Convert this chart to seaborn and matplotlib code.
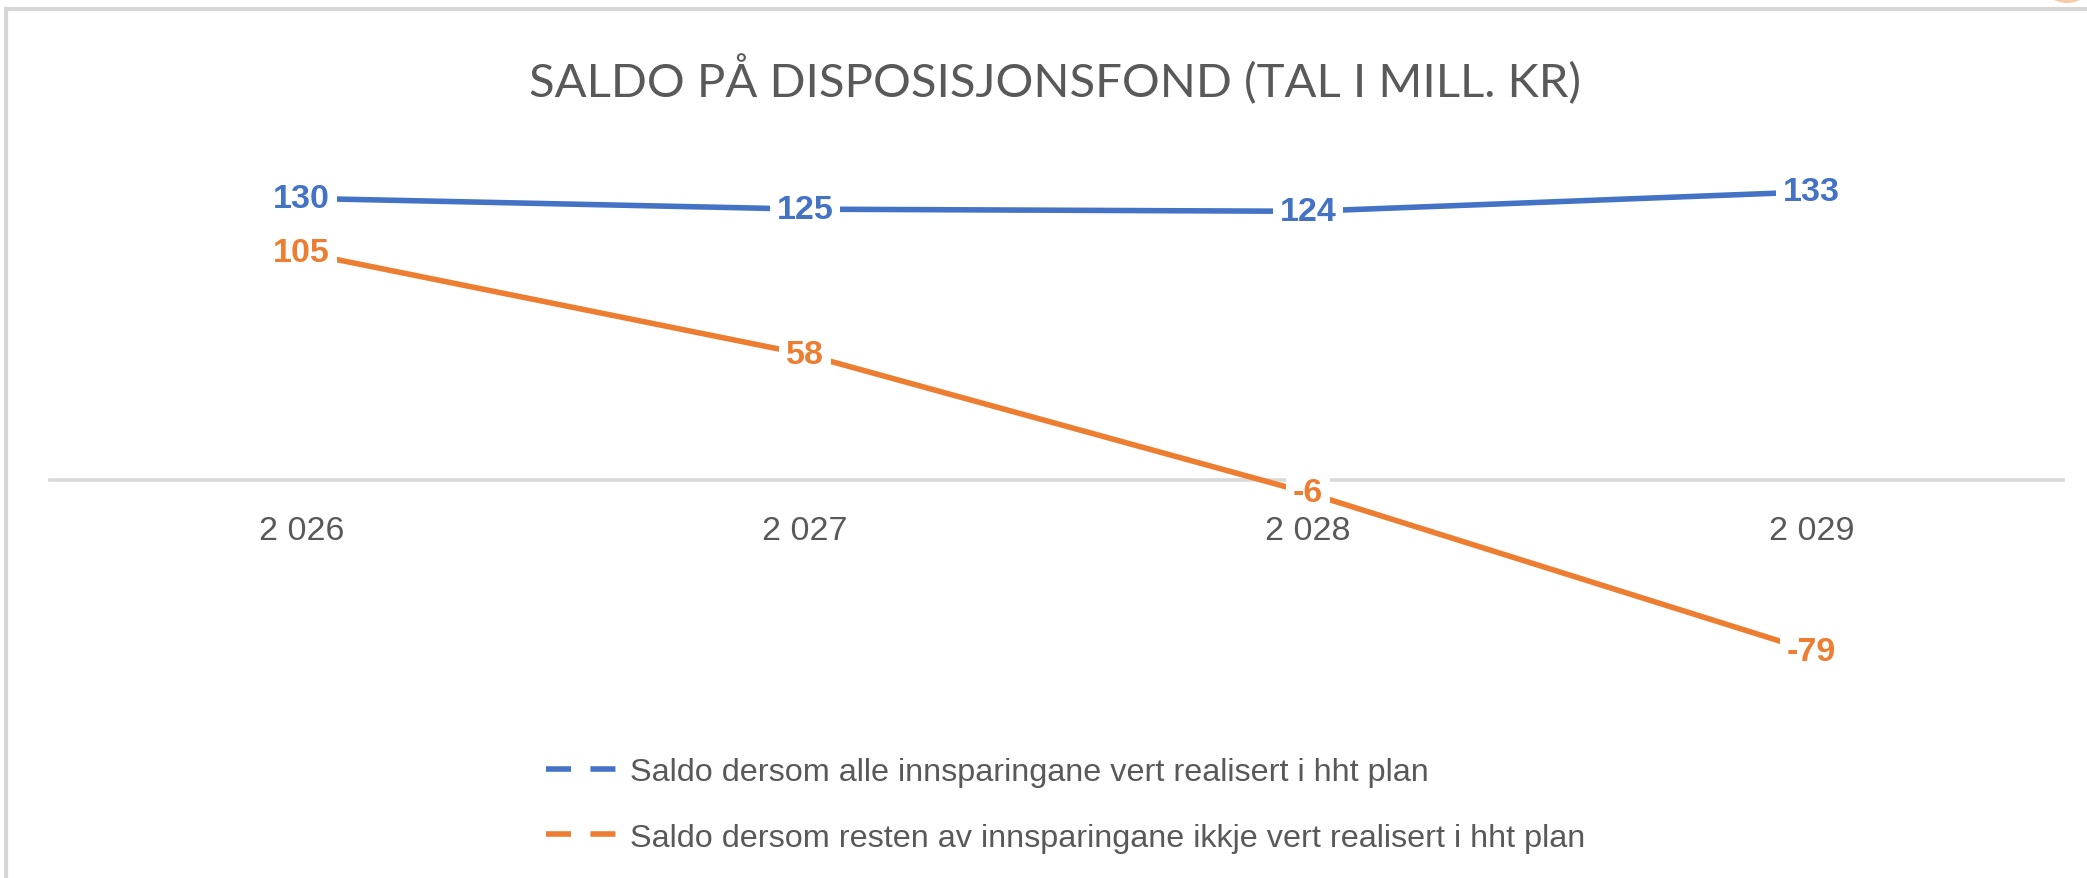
import pandas as pd
import matplotlib
matplotlib.use("Agg")
import matplotlib.pyplot as plt
import seaborn as sns
from matplotlib.patches import Rectangle, Ellipse

years = ["2 026", "2 027", "2 028", "2 029"]
series_a = "Saldo dersom alle innsparingane vert realisert i hht plan"
series_b = "Saldo dersom resten av innsparingane ikkje vert realisert i hht plan"
values_a = [130, 125, 124, 133]
values_b = [105, 58, -6, -79]
title = "SALDO PÅ DISPOSISJONSFOND (TAL I MILL. KR)"

blue = "#4472C4"
orange = "#ED7D31"
grey_text = "#595959"

df = pd.DataFrame({
    "year": years * 2,
    "value": values_a + values_b,
    "series": [series_a] * 4 + [series_b] * 4,
})

sns.set_theme(style="white")
plt.rcParams["font.family"] = ["Liberation Sans", "DejaVu Sans"]

W, H = 2087, 879
fig = plt.figure(figsize=(W / 100, H / 100), dpi=100)
ax = fig.add_axes([50 / W, 1 - 697.5 / H, 2013 / W, 541.5 / H])

sns.lineplot(data=df, x="year", y="value", hue="series",
             palette={series_a: blue, series_b: orange},
             linewidth=4, sort=False, ax=ax)

ax.set_xlim(-0.5, 3.5)
ax.set_ylim(-100, 150)
ax.set_xlabel("")
ax.set_ylabel("")
ax.set_yticks([])
for s in ["left", "right", "top"]:
    ax.spines[s].set_visible(False)
ax.spines["bottom"].set_position(("data", 0))
ax.spines["bottom"].set_color("#d9d9d9")
ax.spines["bottom"].set_linewidth(2.6)
ax.spines["bottom"].set_zorder(0.5)
ax.tick_params(axis="x", length=0, pad=25, labelsize=24.5, labelcolor=grey_text)

# data labels centred on the points, white box hides the line below
for vals, col in [(values_a, blue), (values_b, orange)]:
    for i, v in enumerate(vals):
        ax.text(i, v, str(v), color=col, fontsize=24.5, fontweight="bold",
                ha="center", va="center", zorder=5,
                bbox=dict(facecolor="white", edgecolor="none", pad=5))

leg = ax.legend(loc="upper left", bbox_to_anchor=(530 / W, 1 - 742 / H),
                bbox_transform=fig.transFigure, frameon=False, borderpad=0,
                handlelength=2.3, handletextpad=0.28, labelspacing=1.1,
                fontsize=23.3)
for t in leg.get_texts():
    t.set_color(grey_text)
for h in leg.get_lines():
    h.set_linestyle((0, (4.5, 3.5)))
    h.set_linewidth(4)

fig.text(1055 / W, 1 - 80 / H, title, ha="center", va="center",
         fontsize=34, color=grey_text, family=["Lato", "DejaVu Sans"])

# chart frame and the corner decoration
fig.patches.append(Rectangle((6 / W, -0.5), 2, 0.5 + 1 - 10 / H,
                             transform=fig.transFigure, fill=False,
                             edgecolor="#d6d6d6", linewidth=3))
fig.patches.append(Ellipse((2067 / W, 1 + 22 / H), 56 / W, 52 / H,
                           transform=fig.transFigure,
                           facecolor="#f8cba8", edgecolor="none"))

fig.savefig("out.png", dpi=100)
